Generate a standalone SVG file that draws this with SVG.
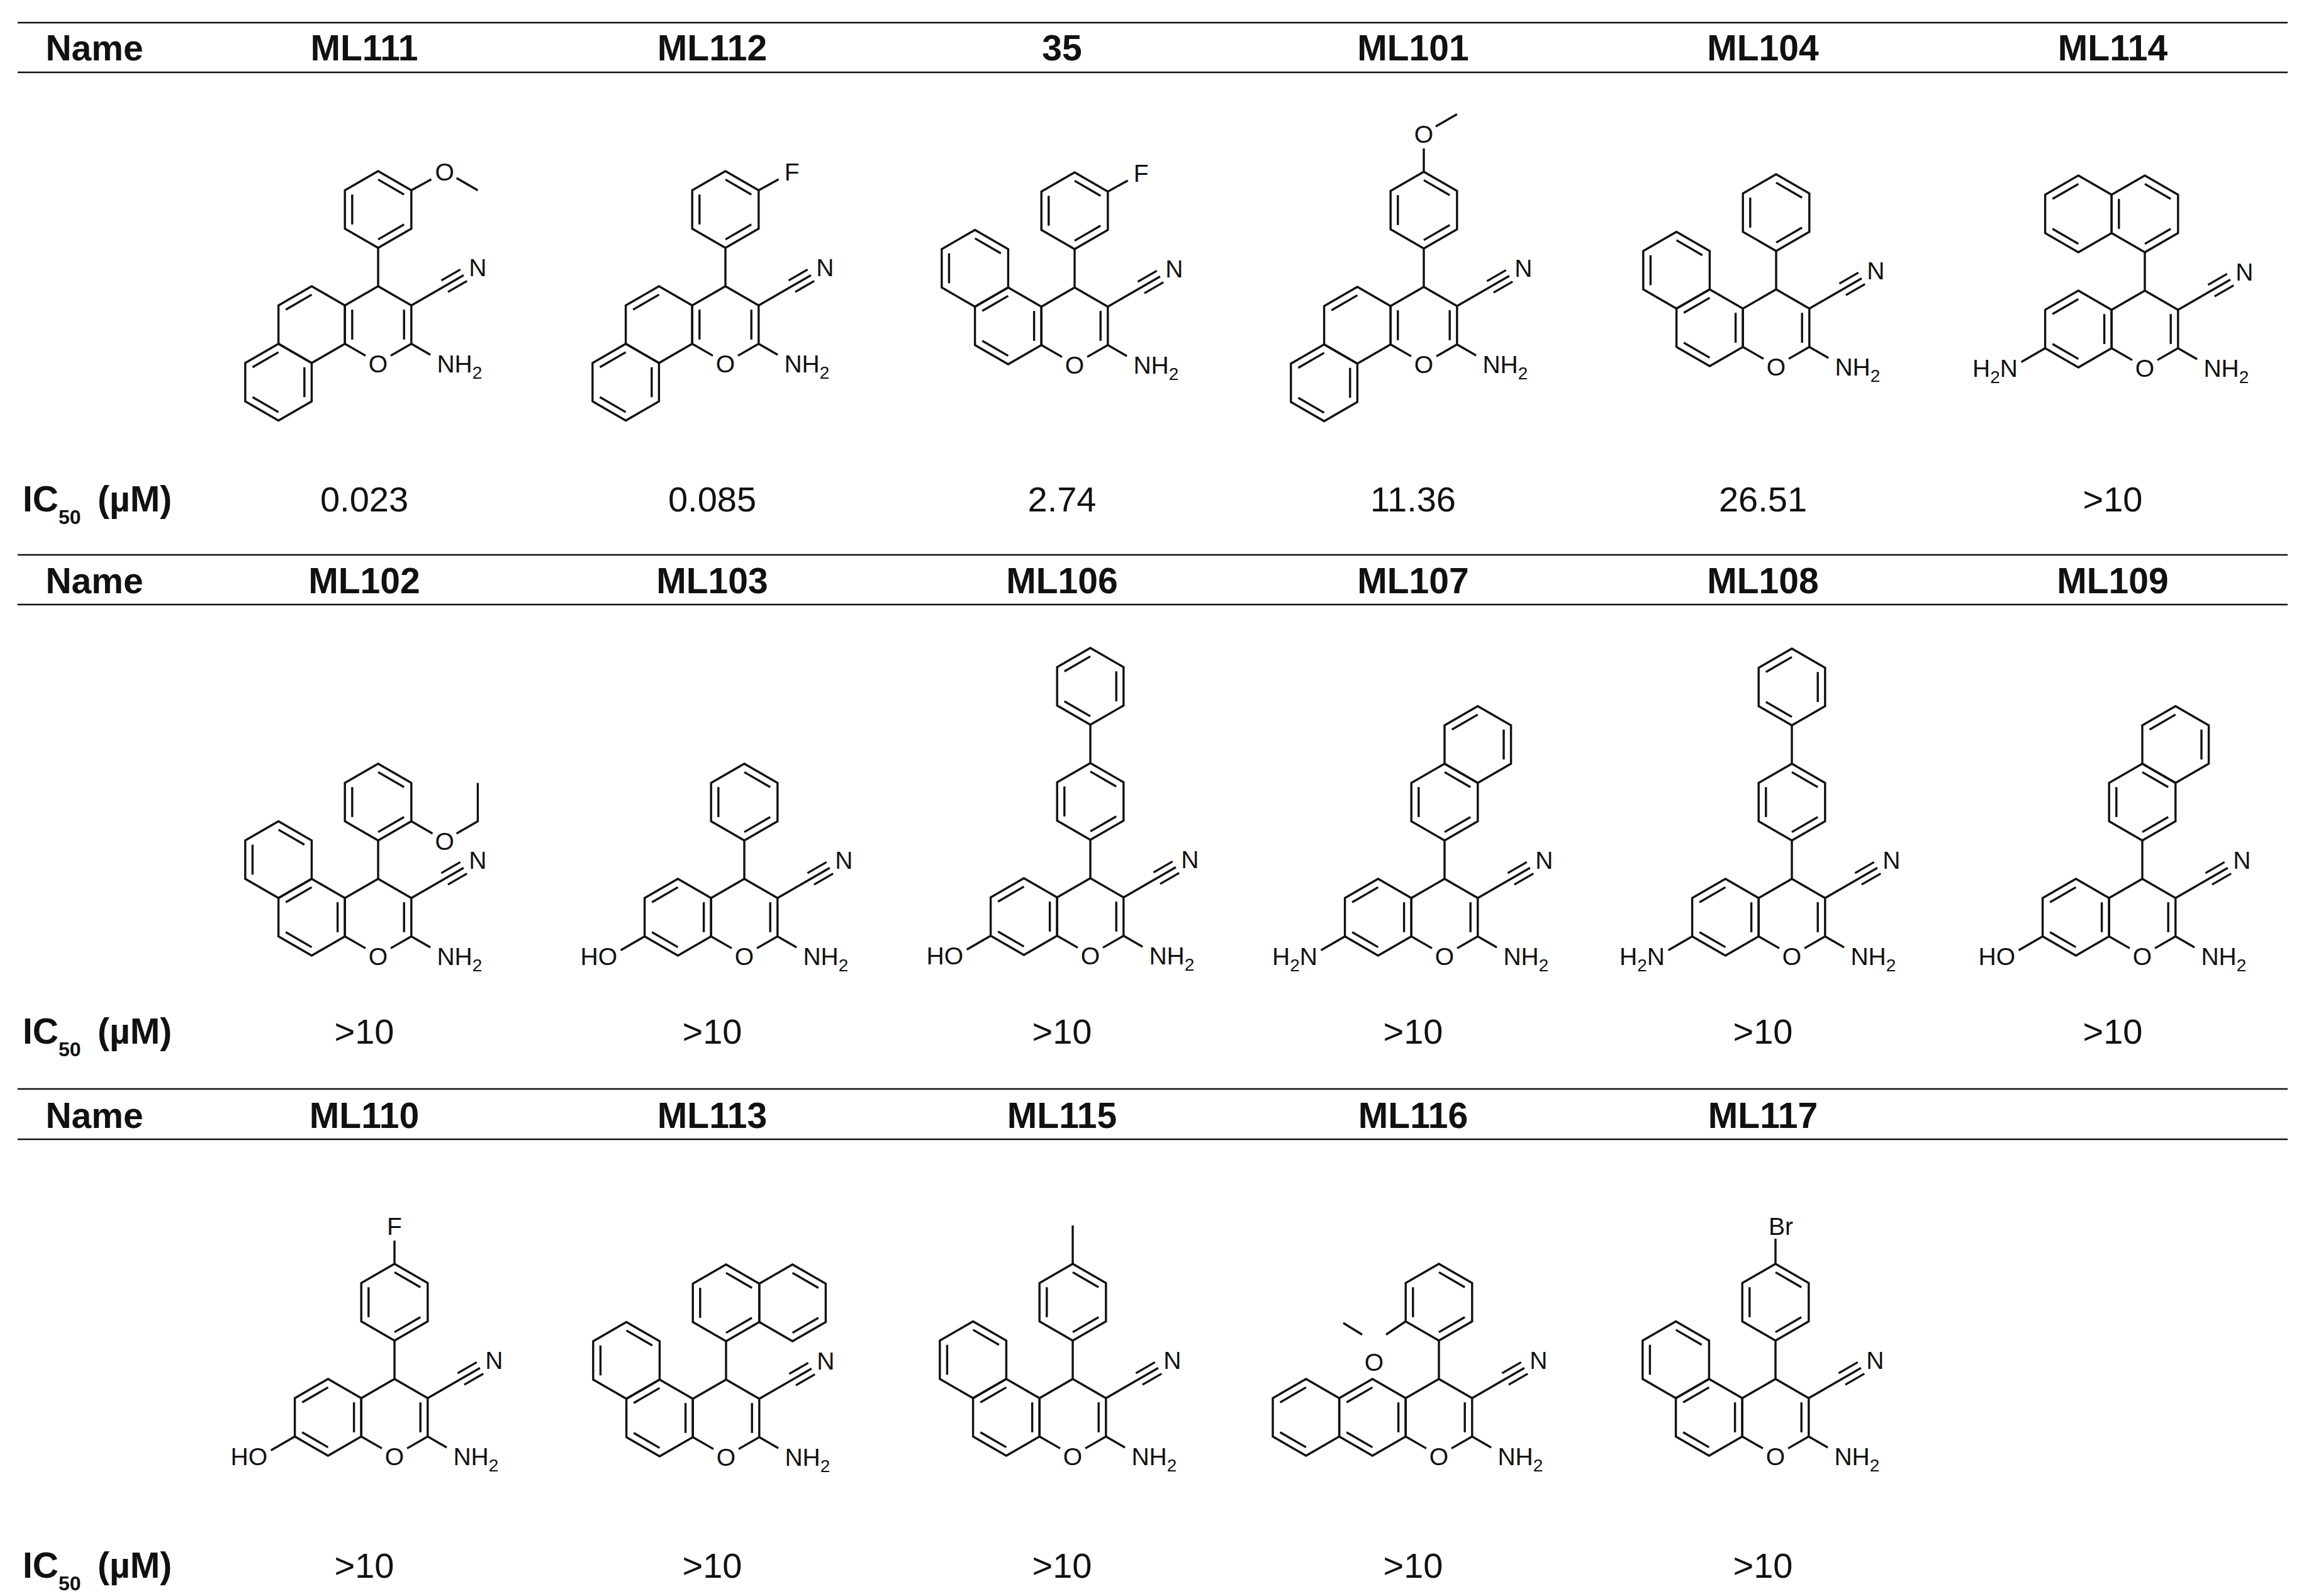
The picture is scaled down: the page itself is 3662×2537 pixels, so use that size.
<svg xmlns="http://www.w3.org/2000/svg" xmlns:xlink="http://www.w3.org/1999/xlink" width="3662" height="2537" viewBox="0 0 3662 2537">
<style>
.b{stroke:#111;stroke-width:3.4;fill:none;stroke-linejoin:miter}
.r{stroke:#111;stroke-width:2.6}
.h{font-family:"Liberation Sans",Arial,sans-serif;font-weight:bold;font-size:57px;fill:#111;text-anchor:middle}
.v{font-family:"Liberation Sans",Arial,sans-serif;font-size:56px;fill:#111;text-anchor:middle}
.a{font-family:"Liberation Sans",Arial,sans-serif;font-size:39px;fill:#111}
.m{text-anchor:middle}
.e{text-anchor:end}
.s{font-size:28px}
</style>
<defs>
<polygon id="hex" class="b" points="0,-61 52.8,-30.5 52.8,30.5 0,61 -52.8,30.5 -52.8,-30.5"/>
<line id="d0" class="b" x1="0" y1="-47.6" x2="41.2" y2="-23.8"/>
<line id="d1" class="b" x1="41.2" y1="-23.8" x2="41.2" y2="23.8"/>
<line id="d2" class="b" x1="41.2" y1="23.8" x2="0" y2="47.6"/>
<line id="d3" class="b" x1="0" y1="47.6" x2="-41.2" y2="23.8"/>
<line id="d4" class="b" x1="-41.2" y1="23.8" x2="-41.2" y2="-23.8"/>
<line id="d5" class="b" x1="-41.2" y1="-23.8" x2="0" y2="-47.6"/>
<g id="core">
<path class="b" d="M-20,49.4 L-52.8,30.5 L-52.8,-30.5 L0,-61 L52.8,-30.5 L52.8,30.5 L20,49.4 M0,-61 V-122 M52.8,-30.5 L135.9,-78.5 M100.4,-70.1 L130.7,-87.6 M110.9,-51.9 L141.2,-69.4 M52.8,30.5 L83.1,48"/>
<use href="#d1"/>
</g>
<g id="bh">
<use href="#hex" x="-105.6"/><use href="#d5" x="-105.6"/>
<use href="#hex" x="-158.4" y="91.5"/><use href="#d5" x="-158.4" y="91.5"/><use href="#d1" x="-158.4" y="91.5"/><use href="#d3" x="-158.4" y="91.5"/>
<use href="#d4"/>
</g>
<g id="bf">
<use href="#hex" x="-105.6"/><use href="#d1" x="-105.6"/><use href="#d3" x="-105.6"/><use href="#d5" x="-105.6"/>
<use href="#hex" x="-158.4" y="-91.5"/><use href="#d0" x="-158.4" y="-91.5"/><use href="#d4" x="-158.4" y="-91.5"/>
</g>
<g id="bs">
<use href="#hex" x="-105.6"/><use href="#d1" x="-105.6"/><use href="#d3" x="-105.6"/><use href="#d5" x="-105.6"/>
<path class="b" d="M-158.4,30.5 L-196.4,52.5"/>
</g>
<g id="bg">
<use href="#hex" x="-105.6"/><use href="#d1" x="-105.6"/><use href="#d3" x="-105.6"/><use href="#d5" x="-105.6"/>
<use href="#hex" x="-211.2"/><use href="#d3" x="-211.2"/><use href="#d5" x="-211.2"/>
</g>
<g id="ph">
<use href="#hex" y="-183"/><use href="#d0" y="-183"/><use href="#d2" y="-183"/><use href="#d4" y="-183"/>
</g>
<g id="n1L">
<use href="#ph"/>
<use href="#hex" x="-105.6" y="-183"/><use href="#d5" x="-105.6" y="-183"/><use href="#d3" x="-105.6" y="-183"/>
</g>
<g id="n1R">
<use href="#ph"/>
<use href="#hex" x="105.6" y="-183"/><use href="#d0" x="105.6" y="-183"/><use href="#d2" x="105.6" y="-183"/>
</g>
<g id="n2">
<use href="#ph"/>
<use href="#hex" x="52.8" y="-274.5"/><use href="#d5" x="52.8" y="-274.5"/><use href="#d1" x="52.8" y="-274.5"/>
</g>
<g id="bp">
<use href="#ph"/>
<path class="b" d="M0,-244 V-305"/>
<use href="#hex" y="-366"/><use href="#d5" y="-366"/><use href="#d1" y="-366"/><use href="#d3" y="-366"/>
</g>
</defs>

<g id="rules">
<line class="r" x1="28" y1="36" x2="3636" y2="36"/>
<line class="r" x1="28" y1="115" x2="3636" y2="115"/>
<line class="r" x1="28" y1="882" x2="3636" y2="882"/>
<line class="r" x1="28" y1="961" x2="3636" y2="961"/>
<line class="r" x1="28" y1="1731" x2="3636" y2="1731"/>
<line class="r" x1="28" y1="1811" x2="3636" y2="1811"/>
</g>

<g id="headers">
<text class="h" x="150" y="96">Name</text>
<text class="h" x="579" y="96">ML111</text>
<text class="h" x="1132" y="96">ML112</text>
<text class="h" x="1688" y="96">35</text>
<text class="h" x="2246" y="96">ML101</text>
<text class="h" x="2802" y="96">ML104</text>
<text class="h" x="3358" y="96">ML114</text>
<text class="h" x="150" y="943">Name</text>
<text class="h" x="579" y="943">ML102</text>
<text class="h" x="1132" y="943">ML103</text>
<text class="h" x="1688" y="943">ML106</text>
<text class="h" x="2246" y="943">ML107</text>
<text class="h" x="2802" y="943">ML108</text>
<text class="h" x="3358" y="943">ML109</text>
<text class="h" x="150" y="1793">Name</text>
<text class="h" x="579" y="1793">ML110</text>
<text class="h" x="1132" y="1793">ML113</text>
<text class="h" x="1688" y="1793">ML115</text>
<text class="h" x="2246" y="1793">ML116</text>
<text class="h" x="2802" y="1793">ML117</text>
</g>

<g id="ic50">
<text class="h" style="text-anchor:start" x="36" y="813">IC<tspan font-size="32" dy="20">50</tspan></text>
<text class="h" style="text-anchor:start" x="155" y="813">(µM)</text>
<text class="h" style="text-anchor:start" x="36" y="1659">IC<tspan font-size="32" dy="20">50</tspan></text>
<text class="h" style="text-anchor:start" x="155" y="1659">(µM)</text>
<text class="h" style="text-anchor:start" x="36" y="2508">IC<tspan font-size="32" dy="20">50</tspan></text>
<text class="h" style="text-anchor:start" x="155" y="2508">(µM)</text>
<text class="v" x="579" y="813">0.023</text>
<text class="v" x="1132" y="813">0.085</text>
<text class="v" x="1688" y="813">2.74</text>
<text class="v" x="2246" y="813">11.36</text>
<text class="v" x="2802" y="813">26.51</text>
<text class="v" x="3358" y="813">&gt;10</text>
<text class="v" x="579" y="1659">&gt;10</text>
<text class="v" x="1132" y="1659">&gt;10</text>
<text class="v" x="1688" y="1659">&gt;10</text>
<text class="v" x="2246" y="1659">&gt;10</text>
<text class="v" x="2802" y="1659">&gt;10</text>
<text class="v" x="3358" y="1659">&gt;10</text>
<text class="v" x="579" y="2508">&gt;10</text>
<text class="v" x="1132" y="2508">&gt;10</text>
<text class="v" x="1688" y="2508">&gt;10</text>
<text class="v" x="2246" y="2508">&gt;10</text>
<text class="v" x="2802" y="2508">&gt;10</text>
</g>

<g id="mol-ML111" transform="translate(601,516)">
<use href="#core"/><use href="#bh"/><use href="#ph"/>
<path class="b" d="M52.8,-213.5 L84.6,-231.1 M124.6,-233 L158.4,-213.5"/>
<text class="a m" x="105.6" y="-229.5">O</text>
<text class="a m" x="0" y="75.5">O</text><text class="a m" x="158.4" y="-77">N</text><text class="a" x="93.4" y="75.5">NH<tspan class="s" dy="10">2</tspan></text>
</g>
<g id="mol-ML112" transform="translate(1153,516)">
<use href="#core"/><use href="#bh"/><use href="#ph"/>
<path class="b" d="M52.8,-213.5 L84.6,-231.1"/>
<text class="a m" x="105.6" y="-229.5">F</text>
<text class="a m" x="0" y="75.5">O</text><text class="a m" x="158.4" y="-77">N</text><text class="a" x="93.4" y="75.5">NH<tspan class="s" dy="10">2</tspan></text>
</g>
<g id="mol-35" transform="translate(1708,518)">
<use href="#core"/><use href="#bf"/><use href="#ph"/>
<path class="b" d="M52.8,-213.5 L84.6,-231.1"/>
<text class="a m" x="105.6" y="-229.5">F</text>
<text class="a m" x="0" y="75.5">O</text><text class="a m" x="158.4" y="-77">N</text><text class="a" x="93.4" y="75.5">NH<tspan class="s" dy="10">2</tspan></text>
</g>
<g id="mol-ML101" transform="translate(2263,517)">
<use href="#core"/><use href="#bh"/><use href="#ph"/>
<path class="b" d="M0,-244 V-281 M19,-316 L52.8,-335.5"/>
<text class="a m" x="0" y="-290.5">O</text>
<text class="a m" x="0" y="75.5">O</text><text class="a m" x="158.4" y="-77">N</text><text class="a" x="93.4" y="75.5">NH<tspan class="s" dy="10">2</tspan></text>
</g>
<g id="mol-ML104" transform="translate(2823,521)">
<use href="#core"/><use href="#bf"/><use href="#ph"/>
<text class="a m" x="0" y="75.5">O</text><text class="a m" x="158.4" y="-77">N</text><text class="a" x="93.4" y="75.5">NH<tspan class="s" dy="10">2</tspan></text>
</g>
<g id="mol-ML114" transform="translate(3409,523)">
<use href="#core"/><use href="#bs"/><use href="#n1L"/>
<text class="a e" x="-202" y="76">H<tspan class="s" dy="10">2</tspan><tspan dy="-10">N</tspan></text>
<text class="a m" x="0" y="75.5">O</text><text class="a m" x="158.4" y="-77">N</text><text class="a" x="93.4" y="75.5">NH<tspan class="s" dy="10">2</tspan></text>
</g>

<g id="mol-ML102" transform="translate(601,1458)">
<use href="#core"/><use href="#bf"/><use href="#ph"/>
<path class="b" d="M52.8,-152.5 L86.5,-133 M124.6,-133 L158.4,-152.5 V-213.5"/>
<text class="a m" x="105.6" y="-107.5">O</text>
<text class="a m" x="0" y="75.5">O</text><text class="a m" x="158.4" y="-77">N</text><text class="a" x="93.4" y="75.5">NH<tspan class="s" dy="10">2</tspan></text>
</g>
<g id="mol-ML103" transform="translate(1183,1458)">
<use href="#core"/><use href="#bs"/><use href="#ph"/>
<text class="a e" x="-202" y="76">HO</text>
<text class="a m" x="0" y="75.5">O</text><text class="a m" x="158.4" y="-77">N</text><text class="a" x="93.4" y="75.5">NH<tspan class="s" dy="10">2</tspan></text>
</g>
<g id="mol-ML106" transform="translate(1733,1457)">
<use href="#core"/><use href="#bs"/><use href="#bp"/>
<text class="a e" x="-202" y="76">HO</text>
<text class="a m" x="0" y="75.5">O</text><text class="a m" x="158.4" y="-77">N</text><text class="a" x="93.4" y="75.5">NH<tspan class="s" dy="10">2</tspan></text>
</g>
<g id="mol-ML107" transform="translate(2296,1458)">
<use href="#core"/><use href="#bs"/><use href="#n2"/>
<text class="a e" x="-202" y="76">H<tspan class="s" dy="10">2</tspan><tspan dy="-10">N</tspan></text>
<text class="a m" x="0" y="75.5">O</text><text class="a m" x="158.4" y="-77">N</text><text class="a" x="93.4" y="75.5">NH<tspan class="s" dy="10">2</tspan></text>
</g>
<g id="mol-ML108" transform="translate(2848,1458)">
<use href="#core"/><use href="#bs"/><use href="#bp"/>
<text class="a e" x="-202" y="76">H<tspan class="s" dy="10">2</tspan><tspan dy="-10">N</tspan></text>
<text class="a m" x="0" y="75.5">O</text><text class="a m" x="158.4" y="-77">N</text><text class="a" x="93.4" y="75.5">NH<tspan class="s" dy="10">2</tspan></text>
</g>
<g id="mol-ML109" transform="translate(3405,1458)">
<use href="#core"/><use href="#bs"/><use href="#n2"/>
<text class="a e" x="-202" y="76">HO</text>
<text class="a m" x="0" y="75.5">O</text><text class="a m" x="158.4" y="-77">N</text><text class="a" x="93.4" y="75.5">NH<tspan class="s" dy="10">2</tspan></text>
</g>

<g id="mol-ML110" transform="translate(627,2253)">
<use href="#core"/><use href="#bs"/><use href="#ph"/>
<path class="b" d="M0,-244 V-281"/>
<text class="a m" x="0" y="-290.5">F</text>
<text class="a e" x="-202" y="76">HO</text>
<text class="a m" x="0" y="75.5">O</text><text class="a m" x="158.4" y="-77">N</text><text class="a" x="93.4" y="75.5">NH<tspan class="s" dy="10">2</tspan></text>
</g>
<g id="mol-ML113" transform="translate(1154,2254)">
<use href="#core"/><use href="#bf"/><use href="#n1R"/>
<text class="a m" x="0" y="75.5">O</text><text class="a m" x="158.4" y="-77">N</text><text class="a" x="93.4" y="75.5">NH<tspan class="s" dy="10">2</tspan></text>
</g>
<g id="mol-ML115" transform="translate(1705,2253)">
<use href="#core"/><use href="#bf"/><use href="#ph"/>
<path class="b" d="M0,-244 V-305"/>
<text class="a m" x="0" y="75.5">O</text><text class="a m" x="158.4" y="-77">N</text><text class="a" x="93.4" y="75.5">NH<tspan class="s" dy="10">2</tspan></text>
</g>
<g id="mol-ML116" transform="translate(2287,2253)">
<use href="#core"/><use href="#bg"/><use href="#ph"/>
<path class="b" d="M-52.8,-152.5 L-84,-131.5 M-152,-150 L-122,-131.5"/>
<text class="a m" x="-103" y="-74.5">O</text>
<text class="a m" x="0" y="75.5">O</text><text class="a m" x="158.4" y="-77">N</text><text class="a" x="93.4" y="75.5">NH<tspan class="s" dy="10">2</tspan></text>
</g>
<g id="mol-ML117" transform="translate(2822,2253)">
<use href="#core"/><use href="#bf"/><use href="#ph"/>
<path class="b" d="M0,-244 V-284"/>
<text class="a" x="-11" y="-290">Br</text>
<text class="a m" x="0" y="75.5">O</text><text class="a m" x="158.4" y="-77">N</text><text class="a" x="93.4" y="75.5">NH<tspan class="s" dy="10">2</tspan></text>
</g>
</svg>
